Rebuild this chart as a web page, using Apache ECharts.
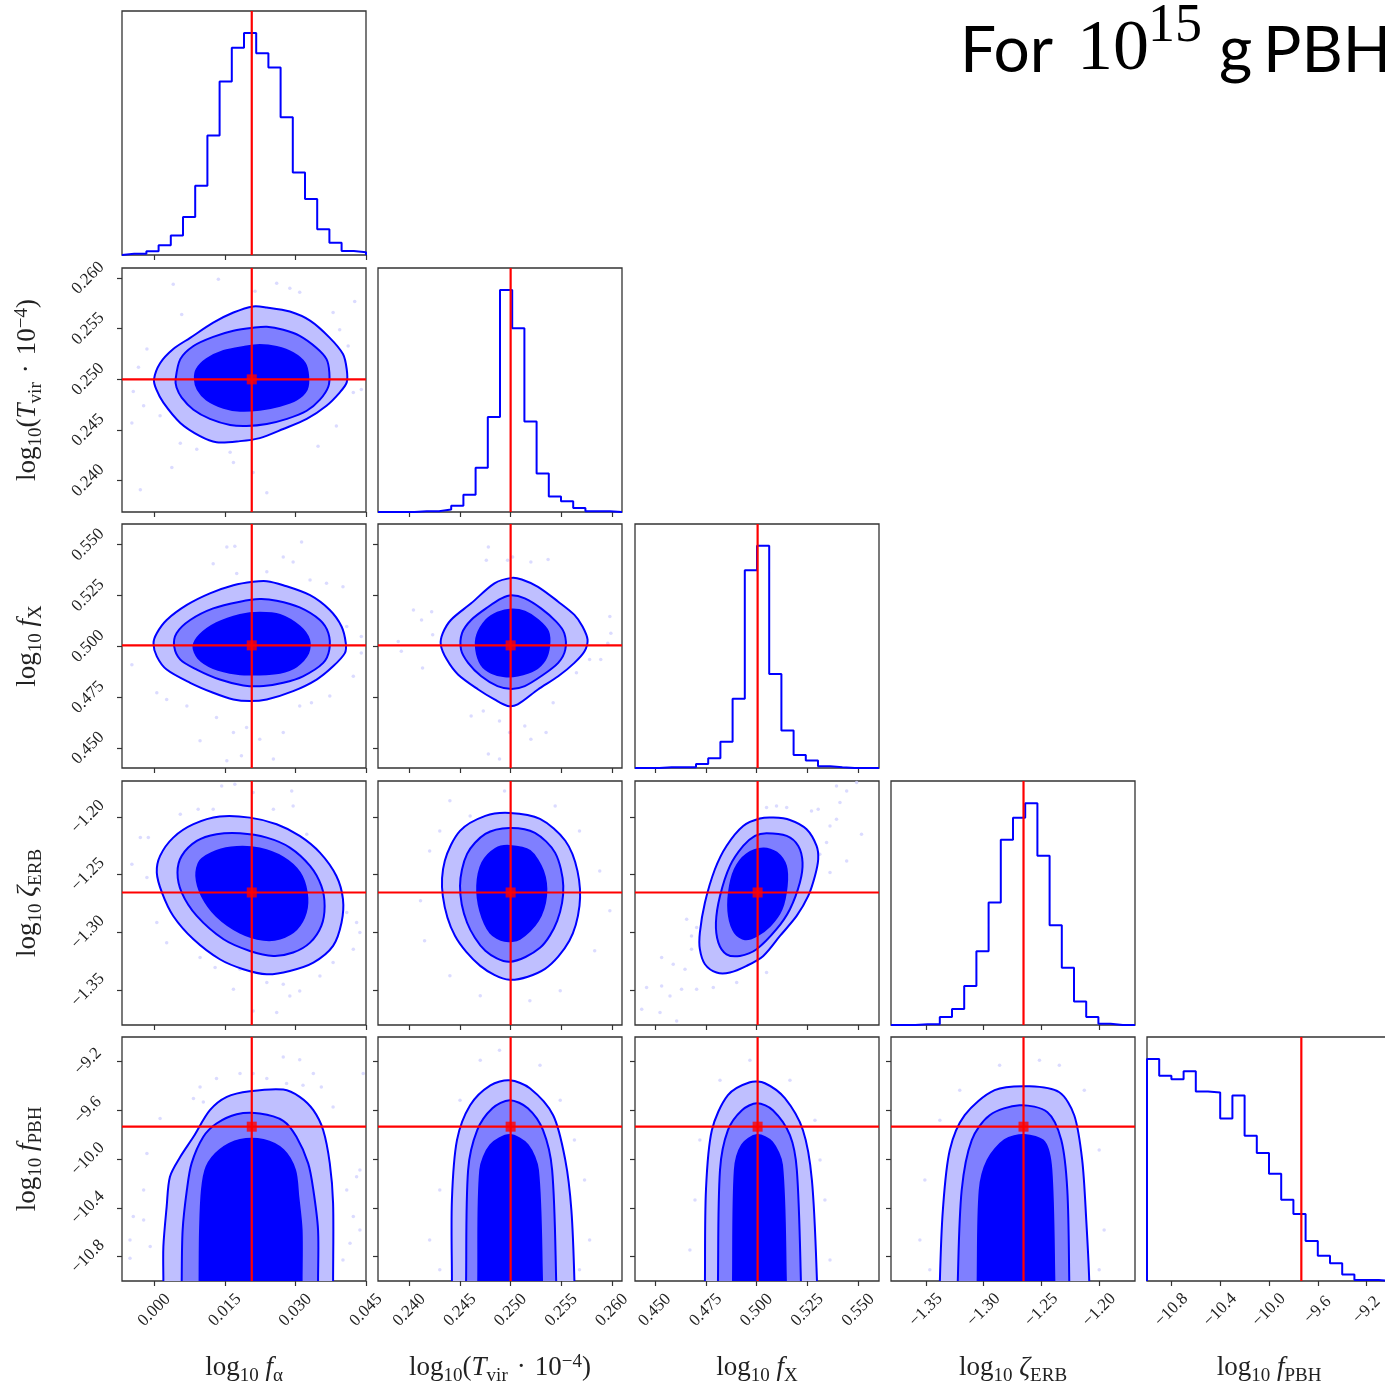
<!DOCTYPE html>
<html><head><meta charset="utf-8">
<script src="https://cdn.jsdelivr.net/npm/echarts@6/dist/echarts.min.js"></script>
<style>html,body{margin:0;padding:0;background:#fff}#c{width:1385px;height:1388px}</style>
</head><body><div id="c"></div>
<script>
// ---------------- DATA ----------------
const paramLabels = [
  '{t|log}{s|10}{t| }{i|f}{s|α}',
  '{t|log}{s|10}{t|(}{i|T}{s|vir}{t|\u2004·\u200410}{u|−4}{t|)}',
  '{t|log}{s|10}{t| }{i|f}{s|X}',
  '{t|log}{s|10}{t| }{i|ζ}{s|ERB}',
  '{t|log}{s|10}{t| }{i|f}{s|PBH}'
];
const rangeFa = [-0.0069, 0.045];
const rangeTvir = [0.2369, 0.2610];
const rangeFx = [0.4402, 0.5602];
const rangeZeta = [-1.3802, -1.1690];
const rangeFpbh = [-11.0, -9.0];

const ticksFa = [0.000, 0.015, 0.030, 0.045];
const ticksTvir = [0.240, 0.245, 0.250, 0.255, 0.260];
const ticksFx = [0.450, 0.475, 0.500, 0.525, 0.550];
const ticksZeta = [-1.35, -1.30, -1.25, -1.20];
const ticksFpbh = [-10.8, -10.4, -10.0, -9.6, -9.2];
const tickDecimals = [3, 3, 3, 2, 1];

const truths = [0.0207, 0.2500, 0.5005, -1.2655, -9.735];

// 1D marginal histograms (20 bins over axis range, normalised so axis top = 1)
const histFa = [0.005,0.005,0.015,0.040,0.080,0.156,0.284,0.490,0.711,0.849,0.910,0.827,0.768,0.565,0.338,0.229,0.106,0.050,0.016,0.011];
const histTvir = [0,0,0,0.003,0.003,0.010,0.026,0.071,0.181,0.389,0.910,0.753,0.371,0.158,0.064,0.044,0.016,0.003,0.003,0];
const histFx = [0,0,0.003,0.003,0.003,0.016,0.040,0.108,0.284,0.810,0.911,0.385,0.154,0.053,0.031,0.007,0.003,0,0,0];
const histZeta = [0,0,0.003,0.003,0.033,0.066,0.160,0.302,0.502,0.759,0.849,0.909,0.694,0.409,0.235,0.096,0.033,0.005,0,0];
const histFpbh = [0.910,0.841,0.827,0.860,0.777,0.773,0.666,0.760,0.595,0.525,0.440,0.333,0.275,0.164,0.103,0.073,0.027,0.004,0.004,0];

// 2D credible contours (outer, middle, inner), in data units [x, y]
const c10_outer = [[-0.0001,0.2500],[0.0012,0.2516],[0.0040,0.2530],[0.0076,0.2541],[0.0125,0.2556],[0.0168,0.2566],[0.0210,0.2572],[0.0239,0.2571],[0.0288,0.2567],[0.0331,0.2558],[0.0373,0.2541],[0.0401,0.2525],[0.0409,0.2510],[0.0409,0.2497],[0.0394,0.2487],[0.0366,0.2474],[0.0324,0.2461],[0.0274,0.2451],[0.0224,0.2442],[0.0182,0.2439],[0.0132,0.2438],[0.0097,0.2444],[0.0055,0.2457],[0.0019,0.2477],[0.0004,0.2490]];
const c10_mid = [[0.0045,0.2500],[0.0055,0.2520],[0.0083,0.2533],[0.0125,0.2542],[0.0168,0.2548],[0.0210,0.2551],[0.0239,0.2552],[0.0274,0.2549],[0.0309,0.2543],[0.0345,0.2531],[0.0366,0.2520],[0.0372,0.2507],[0.0370,0.2493],[0.0352,0.2480],[0.0324,0.2469],[0.0282,0.2461],[0.0239,0.2456],[0.0196,0.2454],[0.0161,0.2455],[0.0118,0.2461],[0.0083,0.2470],[0.0058,0.2482],[0.0047,0.2492]];
const c10_inner = [[0.0086,0.2500],[0.0090,0.2510],[0.0111,0.2520],[0.0147,0.2528],[0.0189,0.2532],[0.0224,0.2534],[0.0260,0.2532],[0.0295,0.2526],[0.0320,0.2516],[0.0327,0.2503],[0.0324,0.2490],[0.0302,0.2480],[0.0267,0.2474],[0.0224,0.2470],[0.0182,0.2469],[0.0147,0.2472],[0.0111,0.2480],[0.0092,0.2490]];

const c20_outer = [[-0.0002,0.5016],[0.0005,0.5065],[0.0026,0.5130],[0.0069,0.5204],[0.0118,0.5261],[0.0168,0.5301],[0.0210,0.5318],[0.0239,0.5321],[0.0274,0.5301],[0.0331,0.5252],[0.0373,0.5179],[0.0398,0.5098],[0.0407,0.5016],[0.0405,0.4967],[0.0380,0.4902],[0.0345,0.4837],[0.0295,0.4780],[0.0239,0.4739],[0.0203,0.4731],[0.0168,0.4739],[0.0125,0.4772],[0.0076,0.4821],[0.0026,0.4886],[0.0005,0.4951]];
const c20_mid = [[0.0042,0.5000],[0.0047,0.5065],[0.0076,0.5130],[0.0125,0.5187],[0.0182,0.5220],[0.0224,0.5233],[0.0260,0.5225],[0.0309,0.5192],[0.0352,0.5130],[0.0370,0.5065],[0.0372,0.4984],[0.0359,0.4919],[0.0316,0.4853],[0.0274,0.4821],[0.0232,0.4805],[0.0189,0.4808],[0.0139,0.4837],[0.0090,0.4886],[0.0055,0.4935]];
const c20_inner = [[0.0083,0.5000],[0.0097,0.5057],[0.0132,0.5114],[0.0182,0.5155],[0.0224,0.5166],[0.0267,0.5155],[0.0309,0.5098],[0.0329,0.5033],[0.0327,0.4967],[0.0302,0.4902],[0.0267,0.4870],[0.0224,0.4862],[0.0175,0.4866],[0.0125,0.4894],[0.0093,0.4943]];

const c21_outer = [[0.2501,0.5337],[0.2511,0.5329],[0.2527,0.5293],[0.2547,0.5220],[0.2563,0.5155],[0.2571,0.5098],[0.2576,0.5033],[0.2573,0.4976],[0.2563,0.4919],[0.2547,0.4853],[0.2527,0.4788],[0.2507,0.4715],[0.2497,0.4707],[0.2484,0.4739],[0.2468,0.4788],[0.2448,0.4862],[0.2437,0.4935],[0.2431,0.5008],[0.2433,0.5065],[0.2441,0.5130],[0.2461,0.5212],[0.2484,0.5310]];
const c21_mid = [[0.2501,0.5251],[0.2514,0.5236],[0.2530,0.5187],[0.2545,0.5122],[0.2553,0.5065],[0.2554,0.4984],[0.2547,0.4919],[0.2530,0.4853],[0.2514,0.4805],[0.2501,0.4791],[0.2487,0.4805],[0.2471,0.4853],[0.2458,0.4919],[0.2451,0.4984],[0.2452,0.5065],[0.2461,0.5130],[0.2478,0.5195],[0.2491,0.5236]];
const c21_inner = [[0.2501,0.5182],[0.2514,0.5171],[0.2527,0.5130],[0.2537,0.5073],[0.2538,0.5000],[0.2534,0.4935],[0.2524,0.4886],[0.2507,0.4857],[0.2494,0.4853],[0.2481,0.4870],[0.2471,0.4910],[0.2466,0.4984],[0.2467,0.5057],[0.2476,0.5130],[0.2487,0.5166]];

const c30_outer = [[0.0005,-1.2483],[0.0012,-1.2338],[0.0040,-1.2180],[0.0083,-1.2064],[0.0139,-1.1998],[0.0203,-1.2007],[0.0260,-1.2064],[0.0309,-1.2165],[0.0352,-1.2310],[0.0387,-1.2512],[0.0401,-1.2713],[0.0398,-1.2915],[0.0380,-1.3117],[0.0338,-1.3262],[0.0288,-1.3334],[0.0239,-1.3363],[0.0189,-1.3319],[0.0139,-1.3233],[0.0083,-1.3060],[0.0040,-1.2858],[0.0016,-1.2656]];
const c30_mid = [[0.0049,-1.2483],[0.0058,-1.2338],[0.0090,-1.2209],[0.0132,-1.2151],[0.0182,-1.2142],[0.0239,-1.2180],[0.0288,-1.2266],[0.0331,-1.2425],[0.0355,-1.2598],[0.0362,-1.2771],[0.0355,-1.2944],[0.0331,-1.3089],[0.0295,-1.3175],[0.0253,-1.3204],[0.0203,-1.3161],[0.0147,-1.3060],[0.0090,-1.2858],[0.0058,-1.2656]];
const c30_inner = [[0.0089,-1.2512],[0.0097,-1.2382],[0.0132,-1.2295],[0.0175,-1.2261],[0.0224,-1.2275],[0.0274,-1.2353],[0.0309,-1.2483],[0.0324,-1.2656],[0.0322,-1.2829],[0.0302,-1.2973],[0.0267,-1.3054],[0.0232,-1.3065],[0.0182,-1.3002],[0.0132,-1.2858],[0.0101,-1.2685]];

const c31_outer = [[0.2499,-1.1966],[0.2529,-1.2018],[0.2554,-1.2207],[0.2566,-1.2468],[0.2568,-1.2771],[0.2558,-1.3073],[0.2534,-1.3316],[0.2499,-1.3411],[0.2470,-1.3290],[0.2445,-1.3030],[0.2433,-1.2684],[0.2435,-1.2381],[0.2450,-1.2122],[0.2475,-1.1992]];
const c31_mid = [[0.2499,-1.2096],[0.2524,-1.2139],[0.2544,-1.2312],[0.2552,-1.2598],[0.2546,-1.2900],[0.2529,-1.3134],[0.2499,-1.3255],[0.2475,-1.3160],[0.2457,-1.2917],[0.2450,-1.2598],[0.2457,-1.2321],[0.2475,-1.2148]];
const c31_inner = [[0.2499,-1.2252],[0.2519,-1.2295],[0.2532,-1.2468],[0.2535,-1.2684],[0.2527,-1.2900],[0.2509,-1.3056],[0.2494,-1.3073],[0.2480,-1.3004],[0.2470,-1.2814],[0.2467,-1.2597],[0.2472,-1.2398],[0.2485,-1.2277]];

const c32_outer = [[0.5082,-1.2007],[0.5164,-1.2027],[0.5246,-1.2108],[0.5295,-1.2252],[0.5303,-1.2367],[0.5287,-1.2512],[0.5254,-1.2685],[0.5197,-1.2858],[0.5115,-1.3031],[0.5033,-1.3204],[0.4951,-1.3290],[0.4869,-1.3348],[0.4803,-1.3348],[0.4746,-1.3276],[0.4721,-1.3146],[0.4721,-1.3002],[0.4746,-1.2742],[0.4795,-1.2454],[0.4852,-1.2252],[0.4934,-1.2079],[0.5016,-1.2015]];
const c32_mid = [[0.5049,-1.2142],[0.5148,-1.2165],[0.5205,-1.2252],[0.5226,-1.2396],[0.5213,-1.2569],[0.5164,-1.2800],[0.5098,-1.2973],[0.5000,-1.3146],[0.4918,-1.3204],[0.4852,-1.3190],[0.4812,-1.3089],[0.4800,-1.2915],[0.4820,-1.2685],[0.4869,-1.2425],[0.4934,-1.2252],[0.4992,-1.2165]];
const c32_inner = [[0.5033,-1.2275],[0.5098,-1.2310],[0.5144,-1.2425],[0.5148,-1.2598],[0.5123,-1.2800],[0.5066,-1.2944],[0.5000,-1.3031],[0.4943,-1.3060],[0.4893,-1.3002],[0.4864,-1.2858],[0.4864,-1.2656],[0.4893,-1.2454],[0.4951,-1.2324]];

const c40_outer = [[0.0019,-11.0],[0.0019,-10.718],[0.0026,-10.391],[0.0033,-10.145],[0.0055,-9.982],[0.0083,-9.818],[0.0118,-9.600],[0.0154,-9.491],[0.0203,-9.445],[0.0274,-9.431],[0.0309,-9.491],[0.0338,-9.600],[0.0359,-9.764],[0.0373,-10.036],[0.0380,-10.363],[0.0380,-11.0]];
const c40_mid = [[0.0058,-11.0],[0.0060,-10.581],[0.0069,-10.254],[0.0079,-10.036],[0.0104,-9.818],[0.0132,-9.709],[0.0175,-9.633],[0.0224,-9.627],[0.0274,-9.687],[0.0302,-9.818],[0.0327,-10.036],[0.0338,-10.254],[0.0348,-10.581],[0.0348,-11.0]];
const c40_inner = [[0.0096,-11.0],[0.0097,-10.581],[0.0101,-10.254],[0.0111,-10.063],[0.0139,-9.927],[0.0182,-9.845],[0.0232,-9.845],[0.0274,-9.927],[0.0299,-10.091],[0.0306,-10.309],[0.0313,-10.581],[0.0313,-11.0]];

const c41_outer = [[0.2442,-11.0],[0.2442,-10.336],[0.2447,-9.845],[0.2460,-9.559],[0.2480,-9.396],[0.2499,-9.355],[0.2519,-9.420],[0.2542,-9.641],[0.2554,-10.009],[0.2560,-10.418],[0.2563,-11.0]];
const c41_mid = [[0.2456,-11.0],[0.2458,-10.091],[0.2467,-9.764],[0.2482,-9.584],[0.2499,-9.518],[0.2517,-9.584],[0.2532,-9.764],[0.2541,-10.091],[0.2545,-11.0]];
const c41_inner = [[0.2468,-11.0],[0.2470,-10.091],[0.2480,-9.886],[0.2499,-9.804],[0.2517,-9.886],[0.2527,-10.091],[0.2531,-11.0]];

const c42_outer = [[0.4746,-11.0],[0.4751,-10.254],[0.4780,-9.764],[0.4859,-9.477],[0.4967,-9.371],[0.5041,-9.379],[0.5139,-9.502],[0.5228,-9.764],[0.5272,-10.172],[0.5297,-11.0]];
const c42_mid = [[0.4810,-11.0],[0.4820,-10.091],[0.4859,-9.764],[0.4928,-9.600],[0.5002,-9.543],[0.5080,-9.600],[0.5164,-9.804],[0.5198,-10.091],[0.5218,-11.0]];
const c42_inner = [[0.4884,-11.0],[0.4893,-10.091],[0.4928,-9.886],[0.5002,-9.804],[0.5076,-9.862],[0.5125,-10.050],[0.5144,-11.0]];

const c43_outer = [[-1.3379,-11.0],[-1.3353,-10.418],[-1.3293,-9.927],[-1.3164,-9.641],[-1.2905,-9.436],[-1.2603,-9.404],[-1.2345,-9.453],[-1.2216,-9.641],[-1.2147,-10.009],[-1.2112,-10.499],[-1.2086,-11.0]];
const c43_mid = [[-1.3224,-11.0],[-1.3190,-10.254],[-1.3103,-9.845],[-1.2948,-9.641],[-1.2690,-9.559],[-1.2448,-9.616],[-1.2328,-9.845],[-1.2276,-10.254],[-1.2259,-11.0]];
const c43_inner = [[-1.3052,-11.0],[-1.3034,-10.254],[-1.2966,-10.009],[-1.2819,-9.845],[-1.2647,-9.804],[-1.2474,-9.862],[-1.2414,-10.091],[-1.2388,-11.0]];

// faint sample points outside the contours
const s10 = [[0.0040,0.2594],[0.0058,0.2564],[0.0136,0.2599],[0.0214,0.2587],[0.0260,0.2595],[0.0288,0.2590],[0.0309,0.2586],[0.0380,0.2566],[0.0426,0.2577],[0.0394,0.2549],[-0.0016,0.2530],[-0.0034,0.2512],[-0.0045,0.2488],[-0.0023,0.2474],[-0.0048,0.2457],[0.0012,0.2464],[0.0055,0.2437],[0.0090,0.2431],[0.0161,0.2428],[0.0210,0.2408],[0.0168,0.2418],[0.0239,0.2388],[-0.0030,0.2391],[0.0037,0.2413],[0.0348,0.2434],[0.0387,0.2454],[0.0423,0.2487],[0.0440,0.2490],[0.0412,0.2533]];
const s20 = [[0.0154,0.5489],[0.0171,0.5492],[0.0125,0.5407],[0.0175,0.5358],[0.0239,0.5367],[0.0274,0.5440],[0.0295,0.5415],[0.0313,0.5513],[0.0331,0.5326],[0.0366,0.5310],[0.0401,0.5293],[0.0409,0.5098],[0.0440,0.5049],[0.0440,0.4967],[-0.0048,0.4910],[0.0005,0.4772],[0.0026,0.4739],[0.0069,0.4707],[0.0097,0.4536],[0.0132,0.4650],[0.0168,0.4576],[0.0196,0.4601],[0.0224,0.4544],[0.0253,0.4446],[0.0274,0.4576],[0.0309,0.4707],[0.0334,0.4723],[0.0373,0.4756],[0.0423,0.4853],[0.0185,0.4462],[0.0154,0.4438]];
const s21 = [[0.2478,0.5489],[0.2497,0.5424],[0.2502,0.5440],[0.2520,0.5415],[0.2537,0.5427],[0.2476,0.5424],[0.2422,0.5171],[0.2404,0.5179],[0.2412,0.5130],[0.2423,0.5057],[0.2392,0.4976],[0.2389,0.5024],[0.2413,0.4894],[0.2598,0.5147],[0.2599,0.5065],[0.2596,0.5016],[0.2589,0.4935],[0.2578,0.4935],[0.2565,0.4870],[0.2542,0.4723],[0.2461,0.4658],[0.2473,0.4682],[0.2489,0.4633],[0.2499,0.4576],[0.2520,0.4544],[0.2535,0.4576],[0.2478,0.4471],[0.2489,0.4446],[0.2514,0.4609]];
const s30 = [[0.0143,-1.1733],[0.0171,-1.1718],[0.0210,-1.1790],[0.0253,-1.1935],[0.0295,-1.1906],[0.0292,-1.1776],[0.0125,-1.1935],[0.0093,-1.1935],[0.0055,-1.1978],[-0.0030,-1.2180],[-0.0013,-1.2180],[-0.0048,-1.2411],[-0.0016,-1.2526],[0.0005,-1.2915],[0.0026,-1.3089],[0.0097,-1.3218],[0.0129,-1.3305],[0.0182,-1.3319],[0.0239,-1.3435],[0.0274,-1.3449],[0.0288,-1.3550],[0.0309,-1.3507],[0.0352,-1.3377],[0.0380,-1.3262],[0.0423,-1.3146],[0.0437,-1.3002],[0.0430,-1.2915],[0.0409,-1.2829],[0.0324,-1.2151],[0.0334,-1.2252],[0.0168,-1.3492],[0.0260,-1.3694],[0.0210,-1.3680]];
const s31 = [[0.2440,-1.1862],[0.2460,-1.1992],[0.2544,-1.1906],[0.2568,-1.2122],[0.2588,-1.2468],[0.2598,-1.2814],[0.2583,-1.3160],[0.2549,-1.3506],[0.2519,-1.3592],[0.2470,-1.3549],[0.2440,-1.3376],[0.2415,-1.3073],[0.2411,-1.2727],[0.2420,-1.2295],[0.2430,-1.2122],[0.2494,-1.1776]];
const s32 = [[0.5393,-1.1733],[0.5492,-1.1704],[0.5443,-1.1776],[0.5410,-1.1877],[0.5393,-1.2021],[0.5361,-1.2079],[0.5344,-1.2223],[0.5311,-1.2324],[0.5361,-1.2483],[0.5443,-1.2382],[0.5516,-1.2151],[0.5270,-1.1949],[0.5303,-1.1935],[0.5148,-1.1920],[0.5049,-1.1920],[0.5098,-1.1906],[0.4656,-1.2887],[0.4705,-1.2959],[0.4680,-1.3031],[0.4680,-1.3146],[0.4590,-1.3276],[0.4648,-1.3319],[0.4533,-1.3218],[0.4459,-1.3478],[0.4533,-1.3464],[0.4574,-1.3550],[0.4631,-1.3492],[0.4705,-1.3492],[0.4435,-1.3665],[0.4525,-1.3694],[0.4607,-1.3767],[0.4787,-1.3478],[0.4902,-1.3435],[0.5049,-1.3348]];
const s40 = [[0.0274,-9.164],[0.0309,-9.186],[0.0182,-9.300],[0.0210,-9.300],[0.0239,-9.341],[0.0132,-9.341],[0.0097,-9.409],[0.0083,-9.505],[0.0104,-9.532],[0.0012,-9.668],[-0.0016,-9.954],[-0.0045,-10.472],[-0.0023,-10.500],[-0.0023,-10.254],[-0.0052,-10.663],[-0.0052,-10.813],[-0.0009,-10.718],[0.0437,-10.091],[0.0430,-10.145],[0.0409,-10.254],[0.0423,-10.472],[0.0437,-10.581],[0.0416,-10.690],[0.0401,-10.827],[0.0338,-9.300],[0.0355,-9.409],[0.0380,-9.573],[0.0444,-9.300],[0.0281,-9.382],[0.0316,-9.396]];
const s41 = [[0.2420,-10.663],[0.2430,-10.254],[0.2470,-9.191],[0.2529,-9.232],[0.2549,-9.518],[0.2573,-10.172],[0.2578,-10.663],[0.2430,-10.908],[0.2568,-10.908],[0.2489,-9.109],[0.2450,-9.518],[0.2563,-9.845]];
const s42 = [[0.4672,-10.745],[0.4697,-10.336],[0.4820,-9.355],[0.5164,-9.355],[0.5287,-9.682],[0.5336,-10.336],[0.5361,-10.827],[0.4721,-9.845],[0.4967,-9.191],[0.5312,-10.009]];
const s43 = [[-1.3552,-10.663],[-1.3509,-10.172],[-1.3207,-9.436],[-1.2862,-9.232],[-1.2345,-9.232],[-1.2129,-9.436],[-1.2000,-9.927],[-1.1957,-10.581],[-1.3466,-10.908],[-1.2000,-10.908],[-1.3379,-9.682],[-1.2517,-9.191]];

// ---------------- BUILD ----------------
const ranges = [rangeFa, rangeTvir, rangeFx, rangeZeta, rangeFpbh];
const ticks = [ticksFa, ticksTvir, ticksFx, ticksZeta, ticksFpbh];
const hists = [histFa, histTvir, histFx, histZeta, histFpbh];
const contours = {
  '1_0': [c10_outer, c10_mid, c10_inner],
  '2_0': [c20_outer, c20_mid, c20_inner],
  '2_1': [c21_outer, c21_mid, c21_inner],
  '3_0': [c30_outer, c30_mid, c30_inner],
  '3_1': [c31_outer, c31_mid, c31_inner],
  '3_2': [c32_outer, c32_mid, c32_inner],
  '4_0': [c40_outer, c40_mid, c40_inner],
  '4_1': [c41_outer, c41_mid, c41_inner],
  '4_2': [c42_outer, c42_mid, c42_inner],
  '4_3': [c43_outer, c43_mid, c43_inner]
};
const samples = {'1_0': s10, '2_0': s20, '2_1': s21, '3_0': s30, '3_1': s31, '3_2': s32,
  '4_0': s40, '4_1': s41, '4_2': s42, '4_3': s43};

const colLeft = [122, 378, 635, 891, 1147];
const rowTop = [11, 268, 524, 781, 1037];
const SIZE = 244;
const BLUE = '#0000ff', RED = '#ff0000', AX = '#333333';
const FILLS = ['#bfbfff', '#7f7fff', '#0000ff'];
const SERIF = 'Liberation Serif';

const nameRich = {
  t: {fontFamily: SERIF, fontSize: 27, lineHeight: 40, verticalAlign: 'middle', color: '#222'},
  i: {fontFamily: SERIF, fontStyle: 'italic', fontSize: 27, lineHeight: 40, verticalAlign: 'middle', color: '#222'},
  s: {fontFamily: SERIF, fontSize: 19, lineHeight: 19, verticalAlign: 'bottom', padding: [0, 0, 2, 0], color: '#222'},
  u: {fontFamily: SERIF, fontSize: 19, lineHeight: 19, verticalAlign: 'top', padding: [5, 0, 0, 0], color: '#222'}
};

function fmt(d) { return v => v.toFixed(d).replace('-', '\u2212'); }

function stepPoints(vals, lo, hi) {
  const n = vals.length, w = (hi - lo) / n;
  const pts = [[lo, 0]];
  vals.forEach((v, i) => { pts.push([lo + i * w, v]); pts.push([lo + (i + 1) * w, v]); });
  pts.push([hi, 0]);
  return pts;
}
// contours that run into the lower axis edge are continued below it (then clipped)
function closeBelow(poly, ymin, span) {
  const first = poly[0], last = poly[poly.length - 1];
  if (first[1] > ymin || last[1] > ymin) return poly;
  const ext = ymin - 0.15 * span;
  return [[first[0], ext]].concat(poly, [[last[0], ext]]);
}

const grids = [], xAxes = [], yAxes = [], series = [];
let gi = 0;
for (let r = 0; r < 5; r++) {
  for (let c = 0; c <= r; c++) {
    grids.push({left: colLeft[c], top: rowTop[r], width: SIZE, height: SIZE,
      show: true, borderColor: AX, borderWidth: 1.3, backgroundColor: 'transparent', outerBoundsMode: 'none'});
    xAxes.push({
      gridIndex: gi, type: 'value', min: ranges[c][0], max: ranges[c][1], position: 'bottom',
      axisLine: {show: false, onZero: false}, splitLine: {show: false},
      axisTick: {show: true, inside: false, length: 5, lineStyle: {color: AX, width: 1.2}, customValues: ticks[c]},
      axisLabel: {show: r === 4, customValues: ticks[c], formatter: fmt(tickDecimals[c]), rotate: 45,
        align: 'center', verticalAlign: 'middle', margin: 29, fontFamily: SERIF, fontSize: 17, color: '#222'},
      name: r === 4 ? paramLabels[c] : '', nameLocation: 'middle', nameGap: 67,
      nameTextStyle: {rich: nameRich}
    });
    if (r === c) {
      yAxes.push({gridIndex: gi, type: 'value', min: 0, max: 1, show: false,
        axisLine: {show: false, onZero: false}, splitLine: {show: false}});
    } else {
      yAxes.push({
        gridIndex: gi, type: 'value', min: ranges[r][0], max: ranges[r][1], position: 'left',
        axisLine: {show: false, onZero: false}, splitLine: {show: false},
        axisTick: {show: true, inside: false, length: 5, lineStyle: {color: AX, width: 1.2}, customValues: ticks[r]},
        axisLabel: {show: c === 0, customValues: ticks[r], formatter: fmt(tickDecimals[r]), rotate: 45,
          align: 'center', verticalAlign: 'middle', margin: 34, fontFamily: SERIF, fontSize: 17, color: '#222'},
        name: c === 0 ? paramLabels[r] : '', nameLocation: 'middle', nameGap: 74, nameRotate: 90,
        nameTextStyle: {rich: nameRich}
      });
    }

    if (r === c) {
      series.push({type: 'line', xAxisIndex: gi, yAxisIndex: gi, data: stepPoints(hists[c], ranges[c][0], ranges[c][1]),
        symbol: 'none', lineStyle: {color: BLUE, width: 2}, z: 2, silent: true});
      series.push({type: 'line', xAxisIndex: gi, yAxisIndex: gi, data: [[truths[c], 0], [truths[c], 1]],
        symbol: 'none', lineStyle: {color: RED, width: 2.2}, z: 3, silent: true});
    } else {
      const key = r + '_' + c;
      series.push({type: 'scatter', xAxisIndex: gi, yAxisIndex: gi, data: samples[key],
        symbol: 'circle', symbolSize: 3.5, itemStyle: {color: '#d2d2ff'}, z: 1, silent: true});
      const span = ranges[r][1] - ranges[r][0];
      contours[key].forEach((poly0, k) => {
        const poly = closeBelow(poly0, ranges[r][0], span);
        series.push({type: 'custom', xAxisIndex: gi, yAxisIndex: gi, clip: true, z: 2, silent: true,
          data: [[truths[c], truths[r]]],
          renderItem: (params, api) => ({
            type: 'polygon',
            shape: {points: poly.map(p => api.coord(p)), smooth: 0.3},
            style: {fill: FILLS[k], stroke: BLUE, lineWidth: 2}
          })
        });
      });
      series.push({type: 'line', xAxisIndex: gi, yAxisIndex: gi, data: [[truths[c], ranges[r][0]], [truths[c], ranges[r][1]]],
        symbol: 'none', lineStyle: {color: RED, width: 2.2}, z: 3, silent: true});
      series.push({type: 'line', xAxisIndex: gi, yAxisIndex: gi, data: [[ranges[c][0], truths[r]], [ranges[c][1], truths[r]]],
        symbol: 'none', lineStyle: {color: RED, width: 2.2}, z: 3, silent: true});
      series.push({type: 'scatter', xAxisIndex: gi, yAxisIndex: gi, data: [[truths[c], truths[r]]],
        symbol: 'rect', symbolSize: 10, itemStyle: {color: RED}, z: 4, silent: true});
    }
    gi++;
  }
}

const chart = echarts.init(document.getElementById('c'), null, {renderer: 'canvas'});
chart.setOption({
  animation: false,
  backgroundColor: '#ffffff',
  grid: grids, xAxis: xAxes, yAxis: yAxes, series: series,
  graphic: [
    {type: 'text', x: 960, y: 51, style: {text: 'For', fontFamily: 'Lato', fontSize: 64, fill: '#000', verticalAlign: 'middle'}},
    {type: 'text', x: 1077, y: 50, style: {text: '10', fontFamily: SERIF, fontSize: 72, fill: '#000', verticalAlign: 'middle'}},
    {type: 'text', x: 1148, y: 27, style: {text: '15', fontFamily: SERIF, fontSize: 54, fill: '#000', verticalAlign: 'middle'}},
    {type: 'text', x: 1219, y: 51, style: {text: 'g', fontFamily: 'Lato', fontSize: 64, fill: '#000', verticalAlign: 'middle'}},
    {type: 'text', x: 1263, y: 51, style: {text: 'PBH', fontFamily: 'Lato', fontSize: 64, fill: '#000', verticalAlign: 'middle'}}
  ]
});
</script></body></html>
